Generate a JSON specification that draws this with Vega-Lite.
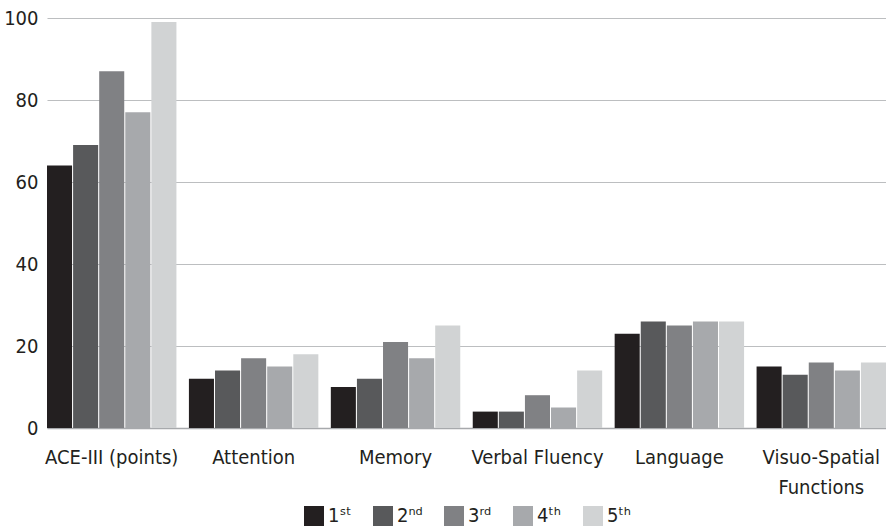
{
  "$schema": "https://vega.github.io/schema/vega-lite/v6.json",
  "autosize": {"type": "none"},
  "padding": {"left": 47, "top": 18, "right": 0, "bottom": 100},
  "width": 839,
  "height": 410,
  "background": "white",
  "config": {
    "view": {"stroke": null},
    "font": "DejaVu Sans Condensed, sans-serif",
    "axis": {"labelFont": "DejaVu Sans Condensed, sans-serif", "labelColor": "#231f20", "labelFontSize": 20}
  },
  "data": {
    "values": [
      {"domain": "ACE-III (points)", "test": "1ˢᵗ", "score": 64},
      {"domain": "ACE-III (points)", "test": "2ⁿᵈ", "score": 69},
      {"domain": "ACE-III (points)", "test": "3ʳᵈ", "score": 87},
      {"domain": "ACE-III (points)", "test": "4ᵗʰ", "score": 77},
      {"domain": "ACE-III (points)", "test": "5ᵗʰ", "score": 99},
      {"domain": "Attention", "test": "1ˢᵗ", "score": 12},
      {"domain": "Attention", "test": "2ⁿᵈ", "score": 14},
      {"domain": "Attention", "test": "3ʳᵈ", "score": 17},
      {"domain": "Attention", "test": "4ᵗʰ", "score": 15},
      {"domain": "Attention", "test": "5ᵗʰ", "score": 18},
      {"domain": "Memory", "test": "1ˢᵗ", "score": 10},
      {"domain": "Memory", "test": "2ⁿᵈ", "score": 12},
      {"domain": "Memory", "test": "3ʳᵈ", "score": 21},
      {"domain": "Memory", "test": "4ᵗʰ", "score": 17},
      {"domain": "Memory", "test": "5ᵗʰ", "score": 25},
      {"domain": "Verbal Fluency", "test": "1ˢᵗ", "score": 4},
      {"domain": "Verbal Fluency", "test": "2ⁿᵈ", "score": 4},
      {"domain": "Verbal Fluency", "test": "3ʳᵈ", "score": 8},
      {"domain": "Verbal Fluency", "test": "4ᵗʰ", "score": 5},
      {"domain": "Verbal Fluency", "test": "5ᵗʰ", "score": 14},
      {"domain": "Language", "test": "1ˢᵗ", "score": 23},
      {"domain": "Language", "test": "2ⁿᵈ", "score": 26},
      {"domain": "Language", "test": "3ʳᵈ", "score": 25},
      {"domain": "Language", "test": "4ᵗʰ", "score": 26},
      {"domain": "Language", "test": "5ᵗʰ", "score": 26},
      {"domain": "Visuo-Spatial Functions", "test": "1ˢᵗ", "score": 15},
      {"domain": "Visuo-Spatial Functions", "test": "2ⁿᵈ", "score": 13},
      {"domain": "Visuo-Spatial Functions", "test": "3ʳᵈ", "score": 16},
      {"domain": "Visuo-Spatial Functions", "test": "4ᵗʰ", "score": 14},
      {"domain": "Visuo-Spatial Functions", "test": "5ᵗʰ", "score": 16}
    ]
  },
  "mark": {"type": "bar"},
  "encoding": {
    "x": {
      "field": "domain", "type": "nominal", "sort": null,
      "scale": {"paddingInner": 0.088, "paddingOuter": 0},
      "axis": {
        "title": null, "labelAngle": 0, "ticks": false, "labelPadding": 19,
        "domainColor": "#a7a9ac", "domainWidth": 1.5, "grid": false,
        "labelExpr": "datum.value == 'Visuo-Spatial Functions' ? ['Visuo-Spatial', 'Functions'] : datum.value",
        "labelLineHeight": 30
      }
    },
    "xOffset": {"field": "test", "type": "nominal", "sort": null, "scale": {"paddingInner": 0.04}},
    "y": {
      "field": "score", "type": "quantitative",
      "scale": {"domain": [0, 100]},
      "axis": {
        "title": null, "values": [0, 20, 40, 60, 80, 100], "ticks": false, "domain": false,
        "labelPadding": 9, "gridColor": "#bcbec0", "gridWidth": 1.2
      }
    },
    "color": {
      "field": "test", "type": "nominal", "sort": null,
      "scale": {"range": ["#231f20", "#58595b", "#808184", "#a7a9ac", "#d1d3d4"]},
      "legend": {
        "title": null, "orient": "none", "direction": "horizontal",
        "legendX": 257, "legendY": 488,
        "symbolType": "square", "symbolSize": 400, "symbolStrokeWidth": 0, "symbolOpacity": 1,
        "labelFontSize": 20, "labelColor": "#231f20", "labelOffset": 4, "columnPadding": 21,
        "labelFont": "DejaVu Sans Condensed, sans-serif"
      }
    }
  }
}
